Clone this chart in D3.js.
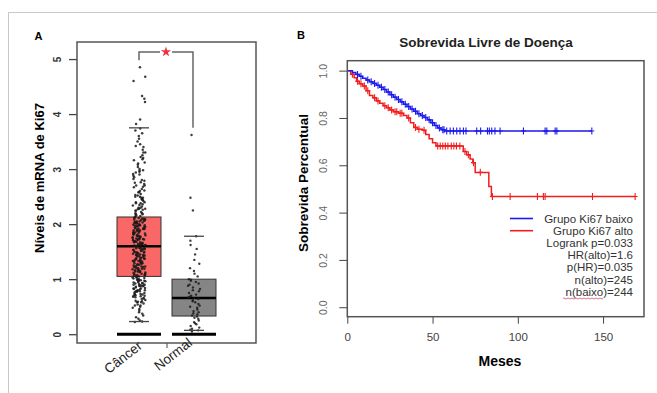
<!DOCTYPE html>
<html>
<head>
<meta charset="utf-8">
<script src="https://cdn.jsdelivr.net/npm/d3@7"></script>
<style>
  body { margin: 0; background: #fff; }
  svg text { font-family: "Liberation Sans", Arial, sans-serif; }
</style>
</head>
<body>
<svg id="chart" width="657" height="393"></svg>
<script>
// ---------- data: panel A (expression boxplot) ----------
const groups = ["Câncer", "Normal"];
const boxLow = [0.23, 0.07];      // lower whisker cap
const boxQ1 = [1.05, 0.33];
const boxMedian = [1.6, 0.66];
const boxQ3 = [2.13, 1.0];
const boxHigh = [3.75, 1.78];     // upper whisker cap
const yTicksA = [0, 1, 2, 3, 4, 5];

const cancerVals = [
  0.22,0.23,0.25,0.28,0.31,0.34,0.37,0.4,0.43,0.46,0.48,0.5,0.52,0.54,0.56,0.58,0.59,0.61,0.62,0.64,
  0.65,0.66,0.68,0.69,0.7,0.71,0.72,0.74,0.75,0.76,0.77,0.78,0.79,0.8,0.81,0.82,0.83,0.84,0.85,0.86,
  0.87,0.88,0.89,0.9,0.91,0.92,0.93,0.94,0.95,0.96,0.97,0.98,0.99,1.0,1.01,1.02,1.03,1.04,0.73,0.87,
  1.05,1.06,1.07,1.08,1.09,1.1,1.11,1.12,1.13,1.14,1.15,1.16,1.17,1.18,1.19,1.2,1.21,1.22,1.23,1.24,
  1.25,1.26,1.27,1.28,1.29,1.3,1.31,1.32,1.33,1.34,1.35,1.36,1.37,1.38,1.39,1.4,1.41,1.42,1.43,1.44,
  1.45,1.46,1.47,1.48,1.49,1.5,1.51,1.52,1.53,1.54,1.55,1.56,1.57,1.58,1.59,1.08,1.19,1.33,1.44,1.56,
  1.6,1.61,1.62,1.63,1.64,1.65,1.66,1.67,1.68,1.69,1.7,1.71,1.72,1.73,1.74,1.75,1.76,1.77,1.78,1.79,
  1.8,1.81,1.82,1.83,1.84,1.85,1.86,1.87,1.88,1.89,1.9,1.91,1.92,1.93,1.94,1.95,1.96,1.97,1.98,1.99,
  2.0,2.01,2.02,2.03,2.04,2.05,2.06,2.07,2.08,2.09,2.1,2.11,2.12,1.64,1.73,1.82,1.91,1.98,2.05,2.11,
  2.14,2.16,2.18,2.2,2.22,2.24,2.26,2.28,2.3,2.32,2.34,2.36,2.38,2.4,2.42,2.44,2.46,2.48,2.5,2.52,
  2.55,2.58,2.61,2.64,2.67,2.7,2.73,2.76,2.79,2.82,2.85,2.88,2.91,2.94,2.97,3.0,3.04,3.08,3.12,3.16,
  3.2,3.25,3.3,3.35,3.4,3.45,3.5,3.55,3.6,3.65,3.7,3.74,2.27,2.53,2.68,2.9,3.18,3.42,
  3.82,3.9,4.22,4.28,4.33,4.6,4.68,4.85,
  0.52,0.6,0.67,0.72,0.78,0.83,0.88,0.92,0.96,1.0,1.03,1.07,1.1,1.13,1.16,1.2,1.23,1.26,1.29,1.32,
  1.35,1.38,1.41,1.44,1.47,1.5,1.53,1.56,1.59,1.62,1.65,1.68,1.71,1.74,1.77,1.8,1.83,1.86,1.89,1.92,
  1.95,1.98,2.01,2.04,2.07,2.1,2.15,2.2,2.25,2.3,2.35,2.4,2.45,2.5,2.6,2.7,2.8,2.95,3.1,3.3,
  0.58,0.7,0.8,0.9,0.98,1.06,1.14,1.22,1.3,1.37,1.43,1.49,1.55,1.61,1.67,1.72,1.78,1.84,1.9,1.96,
  2.02,2.08,2.18,2.28,2.38,2.48,2.58,2.75,2.98,3.22
];
const normalVals = [
  0.05,0.07,0.08,0.1,0.12,0.15,0.18,0.2,0.22,0.25,0.28,0.3,0.32,0.34,0.36,0.38,0.4,0.42,0.45,0.48,
  0.5,0.52,0.55,0.58,0.6,0.62,0.64,0.66,0.67,0.68,0.7,0.72,0.75,0.78,0.8,0.82,0.85,0.88,0.9,0.92,
  0.95,0.97,0.99,1.0,1.05,1.1,1.15,1.2,1.28,1.35,1.45,1.55,1.62,1.7,1.78,2.25,2.48,3.62
];

// ---------- data: panel B (Kaplan-Meier) ----------
const blueTimes = [0,3,5,7,9,11,13,15,17,19,21,23,25,27,29,31,33,35,37,39,41,43,45,47,49,51,53,55,57];
const blueSurv = [1,0.992,0.984,0.976,0.968,0.96,0.953,0.946,0.938,0.93,0.92,0.91,0.898,0.888,0.878,
  0.868,0.858,0.848,0.838,0.828,0.818,0.81,0.802,0.792,0.78,0.768,0.758,0.75,0.745];
const blueEnd = 143.4;
const blueCensor = [6,8,12,14,16,18,20,22,24,26,28,30,32,34,36,38,40,42,44,46,48,50,52,54,56,
  56.7,58.3,60.3,62.2,64.2,66.1,68.1,69.6,75.9,78.2,82.2,83.3,84.7,86.6,89.6,103.3,116,117,121.9,122.9,143.4];

const redTimes = [0,2,4,5.5,7,9,11,13,15,17,19,21,23,25,27,30,33,35,37,39,41,44,46,48,50,52,68,70,72,73.6,75,83,84.5];
const redSurv = [1,0.985,0.97,0.955,0.945,0.935,0.915,0.895,0.885,0.872,0.862,0.852,0.843,0.834,0.826,
  0.82,0.81,0.8,0.78,0.76,0.752,0.748,0.73,0.712,0.695,0.682,0.658,0.644,0.627,0.611,0.57,0.51,0.468];
const redEnd = 169;
const redCensor = [3,6,8,10,12,16,18,22,24,26,28,29,31,32,36,40,42,45,53,54.5,56,57.5,59,61,62.5,64,66,
  69,71,74,78,85.1,95.5,111.5,115,116,143.8,168.8];

const xTicksB = [0, 50, 100, 150];
const yTicksB = [0, 0.2, 0.4, 0.6, 0.8, 1.0];
const legendLines = ["Grupo Ki67 baixo", "Grupo Ki67 alto"];
const statLines = ["Logrank p=0.033", "HR(alto)=1.6", "p(HR)=0.035", "n(alto)=245", "n(baixo)=244"];

const svg = d3.select("#chart");
const frameColor = "#555";

// outer figure frame
svg.append("rect")
  .attr("x", 8.5).attr("y", 12.5)
  .attr("width", 700).attr("height", 500)
  .attr("fill", "none").attr("stroke", "#c8c8c8");

// ================= Panel A =================
const yA = d3.scaleLinear().domain([-0.16, 5.31]).range([343, 42]);
const xA = d3.scaleBand().domain(groups).range([111.5, 221.5]);
const boxW = xA.bandwidth() * 0.8;
const cx = g => xA(g) + xA.bandwidth() / 2;

const gA = svg.append("g");

// y axis
const axA = gA.append("g")
  .attr("transform", "translate(77,0)")
  .call(d3.axisLeft(yA).tickValues(yTicksA).tickSize(8).tickFormat(d3.format("d")));
axA.select(".domain").remove();
axA.selectAll(".tick line").attr("stroke", "#444").attr("stroke-width", 1.3);
axA.selectAll(".tick text")
  .attr("x", null).attr("dy", null)
  .attr("transform", "translate(-20,0) rotate(-90)")
  .attr("text-anchor", "middle")
  .attr("dominant-baseline", "central")
  .style("font-size", "10px").style("font-weight", "bold").attr("fill", "#333");

// single x tick in the middle
gA.append("line")
  .attr("x1", 167).attr("x2", 167).attr("y1", 343).attr("y2", 348)
  .attr("stroke", "#444");

// boxes
groups.forEach((g, i) => {
  const c = cx(g);
  gA.append("rect")
    .attr("x", c - boxW / 2).attr("width", boxW)
    .attr("y", yA(boxQ3[i])).attr("height", yA(boxQ1[i]) - yA(boxQ3[i]))
    .attr("fill", i === 0 ? "#fa6767" : "#858585")
    .attr("stroke", "#333").attr("stroke-width", 1);
  gA.append("line")
    .attr("x1", c - boxW / 2).attr("x2", c + boxW / 2)
    .attr("y1", yA(boxMedian[i])).attr("y2", yA(boxMedian[i]))
    .attr("stroke", "#000").attr("stroke-width", 2.5);
  // thick line of points at zero
  gA.append("line")
    .attr("x1", c - boxW / 2).attr("x2", c + boxW / 2)
    .attr("y1", yA(0)).attr("y2", yA(0))
    .attr("stroke", "#000").attr("stroke-width", 3);
});

// jittered points (deterministic horizontal spread)
function jitter(i, w) {
  const h = Math.sin(i * 12.9898 + 78.233) * 43758.5453;
  return (h - Math.floor(h)) * 2 * w - w;
}
gA.append("g").selectAll("circle")
  .data(cancerVals).join("circle")
  .attr("cx", (d, i) => cx("Câncer") + jitter(i, 6.5))
  .attr("cy", d => yA(d))
  .attr("r", 1.25)
  .attr("fill", "#1a1a1a").attr("fill-opacity", 0.85);
gA.append("g").selectAll("circle")
  .data(normalVals).join("circle")
  .attr("cx", (d, i) => cx("Normal") + jitter(i + 500, 6))
  .attr("cy", d => yA(d))
  .attr("r", 1.2)
  .attr("fill", "#1a1a1a").attr("fill-opacity", 0.85);

// whisker caps (drawn over points)
groups.forEach((g, i) => {
  const c = cx(g);
  [boxLow[i], boxHigh[i]].forEach(v => {
    gA.append("line").attr("x1", c - 10).attr("x2", c + 10)
      .attr("y1", yA(v)).attr("y2", yA(v)).attr("stroke", "#444").attr("stroke-width", 1.3);
  });
});

// significance bracket
const brY = yA(5.13);
gA.append("path")
  .attr("d", `M${cx("Câncer")},${yA(4.98)}V${brY}H${cx("Normal") - 1}V${yA(3.75)}`)
  .attr("fill", "none").attr("stroke", "#666").attr("stroke-width", 1.5);
gA.append("rect").attr("x", 160).attr("y", brY - 4).attr("width", 12).attr("height", 8).attr("fill", "#fff");
gA.append("path")
  .attr("d", d3.symbol(d3.symbolStar, 32)())
  .attr("transform", `translate(166,${brY})`)
  .attr("fill", "#ee3344");

// frame
gA.append("rect").attr("x", 77).attr("y", 42).attr("width", 179).attr("height", 301)
  .attr("fill", "none").attr("stroke", frameColor).attr("stroke-width", 1.5);

// group labels
const labelEnd = [[4, 347.5], [-1, 344.5]];
groups.forEach((g, i) => {
  gA.append("text")
    .attr("transform", `translate(${cx(g) + labelEnd[i][0]},${labelEnd[i][1]}) rotate(-38)`)
    .attr("text-anchor", "end")
    .style("font-size", "13.5px").attr("fill", "#222")
    .text(g);
});

// axis title, panel letter
gA.append("text")
  .attr("transform", "translate(39.5,178) rotate(-90)")
  .attr("text-anchor", "middle").attr("dominant-baseline", "central")
  .style("font-size", "13px").style("font-weight", "bold")
  .text("Níveis de mRNA de Ki67");
gA.append("text").attr("x", 38.5).attr("y", 40)
  .attr("text-anchor", "middle")
  .style("font-size", "11px").style("font-weight", "bold").text("A");

// ================= Panel B =================
const xB = d3.scaleLinear().domain([0, 174]).range([347.3, 644]);
const yB = d3.scaleLinear().domain([-0.04, 1.042]).range([316.7, 60.7]);
const gB = svg.append("g");

const axBy = gB.append("g")
  .attr("transform", "translate(347.3,0)")
  .call(d3.axisLeft(yB).tickValues(yTicksB).tickSize(8).tickFormat(d3.format(".1f")));
axBy.select(".domain").remove();
axBy.selectAll(".tick line").attr("stroke", "#444");
axBy.selectAll(".tick text")
  .attr("x", null).attr("dy", null)
  .attr("transform", "translate(-24,0) rotate(-90)")
  .attr("text-anchor", "middle").attr("dominant-baseline", "central")
  .style("font-size", "10.5px").attr("fill", "#666");

const axBx = gB.append("g")
  .attr("transform", "translate(0,316.7)")
  .call(d3.axisBottom(xB).tickValues(xTicksB).tickSize(7));
axBx.select(".domain").remove();
axBx.selectAll(".tick line").attr("stroke", "#444");
axBx.selectAll(".tick text")
  .attr("y", 20).attr("dy", null).attr("dominant-baseline", "central")
  .style("font-size", "11.5px").attr("fill", "#444");

// KM curves
function stepPts(times, surv, end) {
  const pts = times.map((t, i) => [t, surv[i]]);
  pts.push([end, surv[surv.length - 1]]);
  return pts;
}
function survAt(times, surv, t) {
  let s = surv[0];
  times.forEach((tt, i) => { if (tt <= t) s = surv[i]; });
  return s;
}
const km = d3.line().x(d => xB(d[0])).y(d => yB(d[1])).curve(d3.curveStepAfter);
const series = [
  { times: redTimes, surv: redSurv, end: redEnd, cens: redCensor, color: "#f21d1d" },
  { times: blueTimes, surv: blueSurv, end: blueEnd, cens: blueCensor, color: "#1a1aee" }
];
series.forEach(s => {
  gB.append("path")
    .attr("d", km(stepPts(s.times, s.surv, s.end)))
    .attr("fill", "none").attr("stroke", s.color).attr("stroke-width", 1.5);
  gB.append("g").selectAll("path")
    .data(s.cens).join("path")
    .attr("d", t => {
      const px = xB(t), py = yB(survAt(s.times, s.surv, t));
      return `M${px},${py - 3.5}V${py + 3.5}M${px - 2.5},${py}H${px + 2.5}`;
    })
    .attr("stroke", s.color).attr("stroke-width", 1.1);
});

// frame
gB.append("rect").attr("x", 347.3).attr("y", 60.7).attr("width", 296.7).attr("height", 256)
  .attr("fill", "none").attr("stroke", frameColor).attr("stroke-width", 1.5);

// legend
const legColors = ["#1a1aee", "#f21d1d"];
const rowY = i => 218.5 + i * 12.2;
legendLines.concat(statLines).forEach((t, i) => {
  gB.append("text").attr("x", 633).attr("y", rowY(i))
    .attr("text-anchor", "end").attr("dominant-baseline", "central")
    .style("font-size", "11.5px").attr("fill", "#333").text(t);
});
legendLines.forEach((t, i) => {
  gB.append("line").attr("x1", 510).attr("x2", 533)
    .attr("y1", rowY(i)).attr("y2", rowY(i))
    .attr("stroke", legColors[i]).attr("stroke-width", 1.6);
});
// spell-check squiggle under n(baixo)
gB.append("path")
  .attr("d", "M563,298.5 q1,-1 2,0 t2,0 t2,0 t2,0 t2,0 t2,0 t2,0 t2,0 t2,0 t2,0 t2,0 t2,0 t2,0 t2,0 t2,0 t2,0 t2,0 t2,0 t2,0 t2,0")
  .attr("fill", "none").attr("stroke", "#d05070").attr("stroke-width", 0.8);

// titles
gB.append("text").attr("x", 486).attr("y", 47)
  .attr("text-anchor", "middle")
  .style("font-size", "13.5px").style("font-weight", "bold").attr("fill", "#222")
  .text("Sobrevida Livre de Doença");
gB.append("text")
  .attr("transform", "translate(303,183) rotate(-90)")
  .attr("text-anchor", "middle").attr("dominant-baseline", "central")
  .style("font-size", "13.5px").style("font-weight", "bold")
  .text("Sobrevida Percentual");
gB.append("text").attr("x", 500).attr("y", 366)
  .attr("text-anchor", "middle")
  .style("font-size", "14px").style("font-weight", "bold").text("Meses");
gB.append("text").attr("x", 301).attr("y", 38.5)
  .attr("text-anchor", "middle")
  .style("font-size", "11px").style("font-weight", "bold").text("B");
</script>
</body>
</html>
